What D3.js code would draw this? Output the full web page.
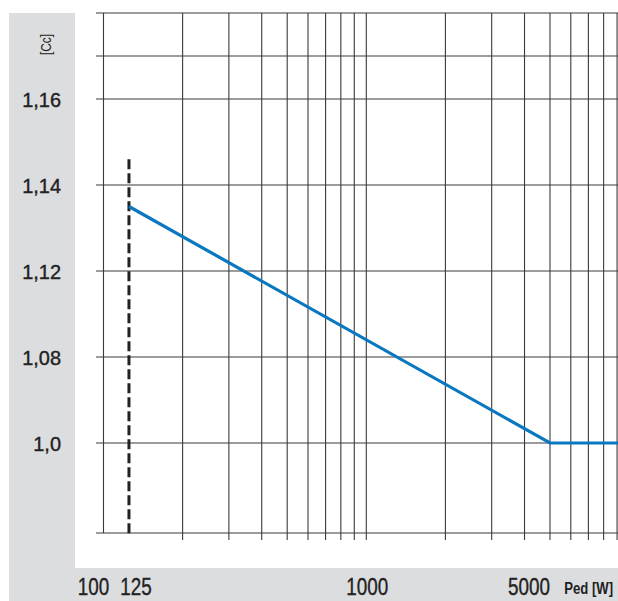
<!DOCTYPE html>
<html>
<head>
<meta charset="utf-8">
<script src="https://cdn.jsdelivr.net/npm/d3@7"></script>
<style>
  html, body { margin: 0; padding: 0; background: #fff; }
  svg { display: block; }
  text { font-family: "Liberation Sans", Arial, Helvetica, sans-serif; fill: #222; }
</style>
</head>
<body>
<script>
// ---- data ----
const yTickValues = [1.0, 1.08, 1.12, 1.14, 1.16];
const yTickLabels = ["1,0", "1,08", "1,12", "1,14", "1,16"];
const xTickValues = [100, 125, 1000, 5000];
const xTickLabels = ["100", "125", "1000", "5000"];
const xGridValues = [100, 200, 300, 400, 500, 600, 700, 800, 900,
                     1000, 2000, 3000, 4000, 5000, 6000, 7000, 8000, 9000];
const yExtraGrid = [1.18, 1.17];
const curveP = [125, 5000, 10000];
const curveCc = [1.135, 1.0, 1.0];
const limitP = 125;
const limitCc = [1.146, 0.915];
const yAxisTitle = "[Cc]";
const xAxisTitle = "Ped [W]";

// ---- layout ----
const W = 618, H = 601;
const svg = d3.select("body").append("svg").attr("width", W).attr("height", H);

const step = 86, yTop = 99;
// piecewise scale: equal spacing between the labelled levels
const yDomain = [0.915].concat(yTickValues).concat([1.18]);
const yRange = [yTop + step * 4 + 90]
  .concat(yTickValues.map((d, i) => yTop + step * (yTickValues.length - 1 - i)))
  .concat([yTop - step]);
const y = d3.scaleLinear().domain(yDomain).range(yRange);
const x = d3.scaleLog().domain([100, 10000]).range([103.5, 629.1]);

const plotTop = y(1.18), plotBottom = y(0.915);

// gray panels
svg.append("rect").attr("x", 9).attr("y", plotTop).attr("width", 66).attr("height", H - plotTop).attr("fill", "#dcdddf");
svg.append("rect").attr("x", 9).attr("y", 568).attr("width", W - 9).attr("height", H - 568).attr("fill", "#dcdddf");

const grid = svg.append("g").attr("stroke", "#3a3a3a").attr("stroke-width", 1.1).attr("fill", "none");

// vertical grid lines
grid.selectAll("line.v").data(xGridValues).join("line")
  .attr("class", "v")
  .attr("x1", d => x(d)).attr("x2", d => x(d))
  .attr("y1", plotTop).attr("y2", d => d === 100 ? plotBottom : plotBottom + 7);

// horizontal grid lines
grid.selectAll("line.h").data(yExtraGrid.concat(yTickValues).concat([0.915])).join("line")
  .attr("class", "h")
  .attr("x1", 96).attr("x2", W)
  .attr("y1", d => y(d)).attr("y2", d => y(d));

// dashed limit line
svg.append("line")
  .attr("x1", x(limitP)).attr("x2", x(limitP))
  .attr("y1", y(limitCc[0])).attr("y2", y(limitCc[1]) + 4)
  .attr("stroke", "#222").attr("stroke-width", 3)
  .attr("stroke-dasharray", "10,4");

// curve
const pts = curveP.map((p, i) => [p, curveCc[i]]);
svg.append("path").datum(pts)
  .attr("d", d3.line().x(d => x(d[0])).y(d => y(d[1])))
  .attr("fill", "none").attr("stroke", "#0a78c0").attr("stroke-width", 3.2);

function label(sel, tx, ty, sx, rot) {
  sel.attr("transform", `translate(${tx},${ty})${rot ? " rotate(" + rot + ")" : ""} scale(${sx},1)`);
  return sel;
}

// y tick labels
yTickValues.forEach((d, i) => {
  label(svg.append("text"), 61, y(d) + 7.5, 0.95)
    .attr("text-anchor", "end").attr("font-size", 21)
    .attr("stroke", "#222").attr("stroke-width", 0.4)
    .text(yTickLabels[i]);
});

// x tick labels
const xLabelShift = { 100: -10, 125: 7, 1000: 1, 5000: -21 };
xTickValues.forEach((d, i) => {
  label(svg.append("text"), x(d) + xLabelShift[d], 595, 0.82)
    .attr("text-anchor", "middle").attr("font-size", 23)
    .attr("stroke", "#222").attr("stroke-width", 0.35)
    .text(xTickLabels[i]);
});

// axis titles
label(svg.append("text"), 50.5, 44.5, 0.85, -90)
  .attr("text-anchor", "middle").attr("font-size", 14).text(yAxisTitle);
label(svg.append("text"), 613, 594, 0.82)
  .attr("text-anchor", "end").attr("font-size", 16).attr("font-weight", "bold").text(xAxisTitle);
</script>
</body>
</html>
